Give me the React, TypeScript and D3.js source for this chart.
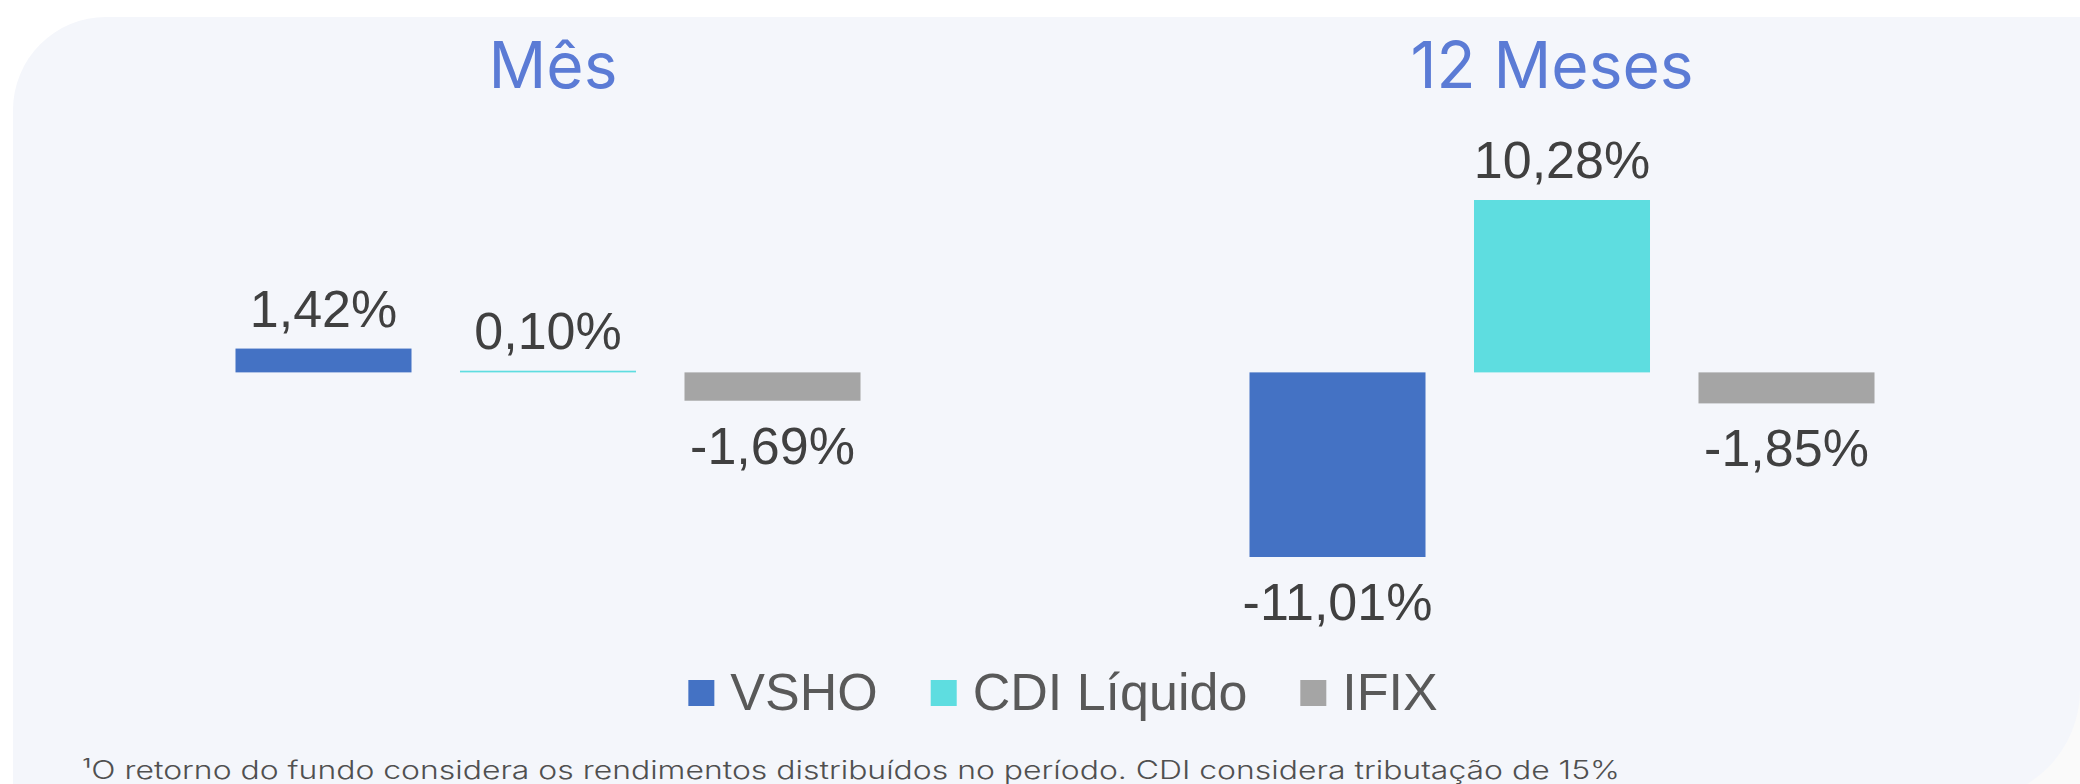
import React from "react";
import * as d3 from "d3";

// data
const groups = ["Mês", "12 Meses"];
const series = ["VSHO", "CDI Líquido", "IFIX"];
const vsho = [1.42, -11.01];
const cdiLiquido = [0.1, 10.28];
const ifix = [-1.69, -1.85];
const seriesColors = ["#4472C4", "#5EDDE0", "#A5A5A5"];
const footnote =
  "¹O retorno do fundo considera os rendimentos distribuídos no período. CDI considera tributação de 15%";

const W = 2080;
const H = 784;

const fmt = (v: number) => v.toFixed(2).replace(".", ",") + "%";

const measure = (text: string, font: string) => {
  const ctx = document.createElement("canvas").getContext("2d");
  if (!ctx) return text.length * 26;
  ctx.font = font;
  return ctx.measureText(text).width;
};

export default function App() {
  const values = [vsho, cdiLiquido, ifix];
  const all = values.flat();

  const y = d3
    .scaleLinear()
    .domain([d3.min(all) as number, d3.max(all) as number])
    .range([557, 200]);

  const groupX = d3.scalePoint<string>().domain(groups).range([548, 1562]);
  const inner = d3
    .scaleBand<string>()
    .domain(series)
    .range([-336.75, 336.75])
    .paddingInner(0.216)
    .paddingOuter(0.108);

  const bars = groups.flatMap((g, gi) =>
    series.map((s, si) => ({ g, s, v: values[si][gi], color: seriesColors[si] }))
  );

  // legend layout
  const legendFont = "52px 'Liberation Sans', Arial, sans-serif";
  const sw = 26;
  const gapText = 16;
  const gapItem = 53;
  const widths = series.map((s) => measure(s, legendFont));
  const total =
    widths.reduce((a, w) => a + sw + gapText + w, 0) + gapItem * (series.length - 1);
  let cursor = 1063 - total / 2;
  const legend = series.map((s, i) => {
    const x = cursor;
    cursor += sw + gapText + widths[i] + gapItem;
    return { s, x, color: seriesColors[i] };
  });

  // panel with rounded top-left / bottom-right corners
  const r1 = 93;
  const r2 = 110;
  const px = 13;
  const py = 17;
  const pr = W;
  const pb = 800;
  const panel = `M${px},${pb} L${px},${py + r1} A${r1},${r1} 0 0 1 ${px + r1},${py} L${pr},${py} L${pr},${pb - r2} A${r2},${r2} 0 0 1 ${pr - r2},${pb} Z`;

  return (
    <svg
      width={W}
      height={H}
      style={{ position: "absolute", left: 0, top: 0, display: "block", background: "#fff" }}
    >
      <rect x={W - 200} y={H - 120} width={200} height={120} fill="#fafafa" />
      <path d={panel} fill="#F4F6FB" />

      {groups.map((g) => (
        <text
          key={g}
          x={groupX(g)! + (g === "Mês" ? 5 : -10)}
          y={88}
          textAnchor="middle"
          fill="#5B7BD5"
          style={{ font: "400 64px Inter, 'Noto Sans', sans-serif" }}
        >
          {g}
        </text>
      ))}

      {bars.map((b) => {
        const x = groupX(b.g)! + inner(b.s)!;
        const y0 = y(0);
        const yv = y(b.v);
        return (
          <g key={b.g + b.s}>
            <rect
              x={x}
              y={Math.min(y0, yv)}
              width={inner.bandwidth()}
              height={Math.max(1.5, Math.abs(yv - y0))}
              fill={b.color}
            />
            <text
              x={x + inner.bandwidth() / 2}
              y={b.v >= 0 ? yv - 22 : yv + 63}
              textAnchor="middle"
              fill="#404040"
              style={{ font: "52px 'Liberation Sans', Arial, sans-serif" }}
            >
              {fmt(b.v)}
            </text>
          </g>
        );
      })}

      {legend.map((l) => (
        <g key={l.s}>
          <rect x={l.x} y={680} width={sw} height={sw} fill={l.color} />
          <text
            x={l.x + sw + gapText}
            y={710}
            fill="#595959"
            style={{ font: legendFont }}
          >
            {l.s}
          </text>
        </g>
      ))}

      <text
        x={82}
        y={779}
        fill="#505050"
        textLength={1538}
        lengthAdjust="spacingAndGlyphs"
        style={{ font: "300 25px Inter, 'Noto Sans', sans-serif" }}
      >
        {footnote}
      </text>
    </svg>
  );
}
